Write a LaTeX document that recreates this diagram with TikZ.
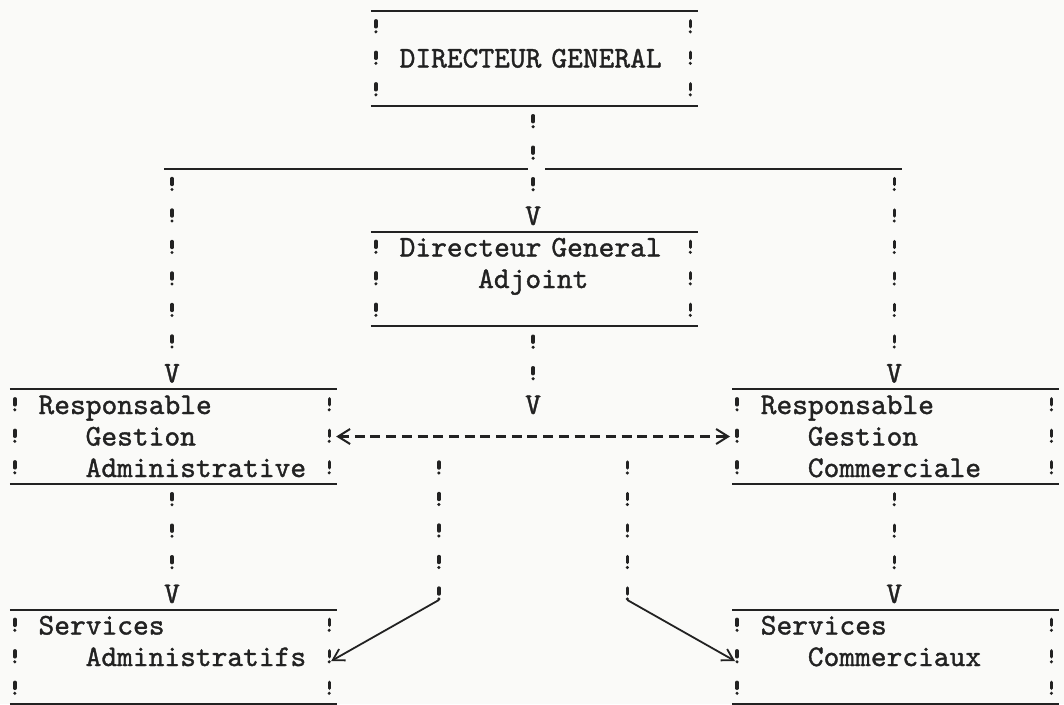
\documentclass[tikz,border=0pt]{standalone}
\usepackage{fontspec}
\usepackage{tikz}
\usetikzlibrary{calc,arrows.meta}

\newfontfamily\typefont{lmmono10-regular.otf}[FakeBold=1.2]
\definecolor{ink}{HTML}{222222}
\definecolor{paper}{HTML}{FAFAF8}
\newlength{\cw}
\setlength{\cw}{15.7pt}

\tikzset{
	typed/.style={font=\typefont\fontsize{30}{31.5}\selectfont, text=ink, inner sep=0pt},
	typebox/.style={typed, text width=314pt, align=left, text height=24.75pt, text depth=69.75pt},
	typerule/.style={draw=ink, line width=2pt},
	bangs/.style={draw=ink, line width=3.4pt, line cap=round, dash pattern=on 6pt off 5pt on 0pt off 20.5pt, dash phase=21.75pt},
	hyphens/.style={draw=ink, line width=2.2pt, dash pattern=on 10pt off 5.7pt},
	wire/.style={draw=ink, line width=1.8pt},
}

\begin{document}
\begin{tikzpicture}[x=1pt,y=1pt]
				\path[use as bounding box, fill=paper] (0,0) rectangle (1064,-704);
				\node[typebox] (dg)  at (533.1,-58.5)  {\mbox{}\\ \hspace*{1.5\cw}DIRECTEUR GENERAL};
				\node[typebox] (dga) at (533.1,-279)   {\hspace*{1.5\cw}Directeur General\\ \hspace*{6.5\cw}Adjoint};
				\node[typebox] (rga) at (172,-436.5)   {\hspace*{1.5\cw}Responsable\\ \hspace*{4.5\cw}Gestion\\ \hspace*{4.5\cw}Administrative};
				\node[typebox] (rgc) at (894.2,-436.5) {\hspace*{1.5\cw}Responsable\\ \hspace*{4.5\cw}Gestion\\ \hspace*{4.5\cw}Commerciale};
				\node[typebox] (sa)  at (172,-657)     {\hspace*{1.5\cw}Services\\ \hspace*{4.5\cw}Administratifs};
				\node[typebox] (sc)  at (894.2,-657)   {\hspace*{1.5\cw}Services\\ \hspace*{4.5\cw}Commerciaux};
				\node[typed, anchor=base] (vdga) at (533.1,-225)   {V};
				\node[typed, anchor=base] (vrga) at (172,-382.5)   {V};
				\node[typed, anchor=base] (vrgc) at (894.2,-382.5) {V};
				\node[typed, anchor=base] (vmid) at (533.1,-414)   {V};
				\node[typed, anchor=base] (vsa)  at (172,-603)     {V};
				\node[typed, anchor=base] (vsc)  at (894.2,-603)   {V};
				\coordinate (hub)     at (533.1,-168.75);
				\coordinate (lcorner) at (172,-168.75);
				\coordinate (rcorner) at (894.2,-168.75);
				\coordinate (ltop)    at (438.9,-452.25);
				\coordinate (lbot)    at (438.9,-600);
				\coordinate (rtop)    at (627.3,-452.25);
				\coordinate (rbot)    at (627.3,-600);
				\foreach \b in {dg,dga,rga,rgc,sa,sc}{
					\draw[typerule] ([xshift=-5]\b.north west) -- ([xshift=8]\b.north east);
					\draw[typerule] ([xshift=-5]\b.south west) -- ([xshift=8]\b.south east);
					\draw[bangs] (\b.north west) -- (\b.south west);
					\draw[bangs] (\b.north east) -- (\b.south east);
				}
				\draw[typerule] ([xshift=-8]lcorner) -- ([xshift=-5]hub);
				\draw[typerule] ([xshift=12]hub) -- ([xshift=8]rcorner);
				\draw[bangs] (dg.south) -- (vdga.north);
				\draw[bangs] (lcorner) -- (vrga.north);
				\draw[bangs] (rcorner) -- (vrgc.north);
				\draw[bangs] (dga.south) -- (vmid.north);
				\draw[bangs] (rga.south) -- (vsa.north);
				\draw[bangs] (rgc.south) -- (vsc.north);
				\draw[hyphens, {Straight Barb[length=12pt,width=15pt,line width=2pt]}-{Straight Barb[length=12pt,width=15pt,line width=2pt]}] ([xshift=7]rga.east) -- ([xshift=-7]rgc.west);
				\draw[bangs] (ltop) -- (lbot);
				\draw[bangs] (rtop) -- (rbot);
				\draw[wire, -{Straight Barb[length=11pt,width=13pt]}] (lbot) -- ([shift={(2,-4)}]sa.east);
				\draw[wire, -{Straight Barb[length=11pt,width=13pt]}] (rbot) -- ([shift={(-2,-4)}]sc.west);
			\end{tikzpicture}
\end{document}
